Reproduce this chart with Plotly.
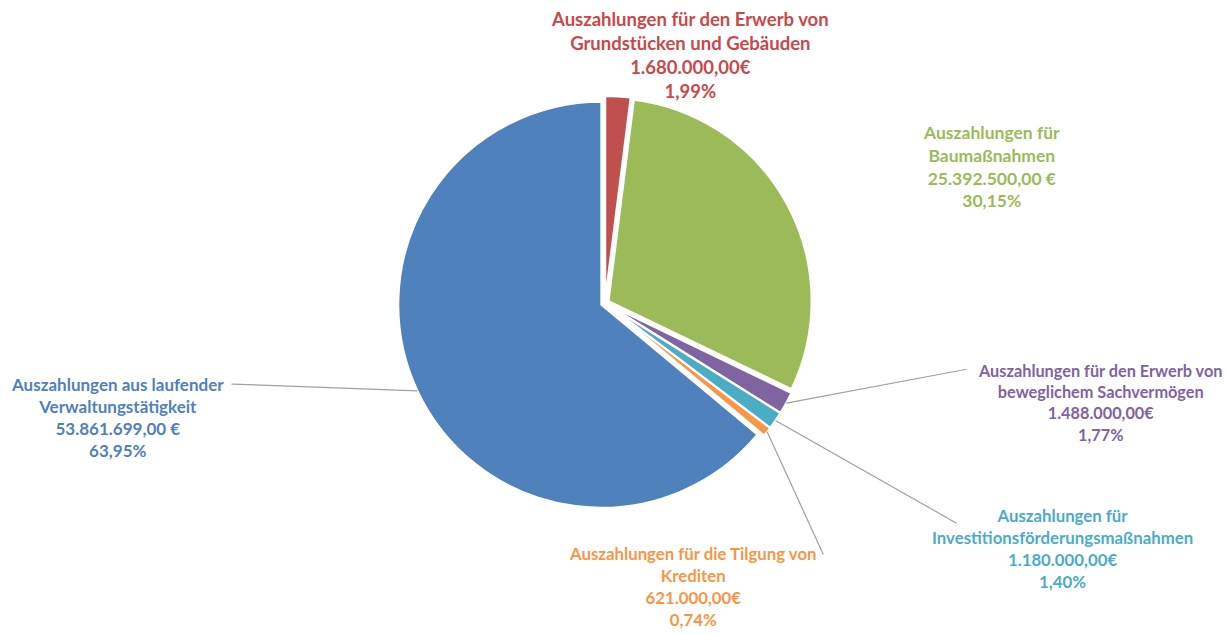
import math
import plotly.graph_objects as go

# ---- data ----
labels = [
    "Auszahlungen für den Erwerb von<br>Grundstücken und Gebäuden",
    "Auszahlungen für<br>Baumaßnahmen",
    "Auszahlungen für den Erwerb von<br>beweglichem Sachvermögen",
    "Auszahlungen für<br>Investitionsförderungsmaßnahmen",
    "Auszahlungen für die Tilgung von<br>Krediten",
    "Auszahlungen aus laufender<br>Verwaltungstätigkeit",
]
amounts = [1680000.00, 25392500.00, 1488000.00, 1180000.00, 621000.00, 53861699.00]
amount_text = ["1.680.000,00€", "25.392.500,00 €", "1.488.000,00€",
               "1.180.000,00€", "621.000,00€", "53.861.699,00 €"]
percent_text = ["1,99%", "30,15%", "1,77%", "1,40%", "0,74%", "63,95%"]
colors = ["#C0504D", "#9BBB59", "#8064A2", "#4BACC6", "#F79646", "#4F81BD"]
text_colors = ["#C8494A", "#9BBB59", "#7F63A1", "#4BACC6", "#F79646", "#4F81BD"]

W, H = 1227, 635

# pie placement (page pixels)
PCX, PCY, PR = 605, 303, 203
pull = 0.02

def fx(px):
    return px / W

def fy(py):
    return 1 - py / H

half = PR * (1 + pull)
dom_x = [fx(PCX) - 0.25, fx(PCX) + 0.25]
dom_y = [fy(PCY + half), fy(PCY - half)]

fig = go.Figure(go.Pie(
    values=amounts,
    labels=[l.replace("<br>", " ") for l in labels],
    marker=dict(colors=colors, line=dict(color="white", width=2)),
    sort=False,
    direction="clockwise",
    rotation=0,
    pull=pull,
    textinfo="none",
    hoverinfo="label+value+percent",
    domain=dict(x=dom_x, y=dom_y),
    showlegend=False,
))

# label centres (page pixels), font sizes and leader-line start points
label_px = [(690, 55), (992, 166), (1100, 402), (1062, 548), (693, 586), (117, 417)]
label_size = [18.5, 17.5, 16.3, 16.8, 16.8, 17]
leader_tail = [None, None, (968, 369), (958, 524), (824, 556), (230, 384)]

total = sum(amounts)
cum = 0
annotations = []
for i, v in enumerate(amounts):
    mid = (cum + v / 2) / total * 2 * math.pi
    cum += v
    text = f"{labels[i]}<br>{amount_text[i]}<br>{percent_text[i]}"
    lpx, lpy = label_px[i]
    annotations.append(dict(
        x=fx(lpx), y=fy(lpy), xref="paper", yref="paper", text=text,
        showarrow=False, xanchor="center", yanchor="middle",
        font=dict(family="Lato", size=label_size[i], color=text_colors[i], weight="bold"),
        align="center",
    ))
    if leader_tail[i] is not None:
        rr = PR * (1 + pull)
        tx = PCX + rr * math.sin(mid)
        ty = PCY - rr * math.cos(mid)
        sx, sy = leader_tail[i]
        annotations.append(dict(
            x=fx(tx), y=fy(ty), xref="paper", yref="paper", text="",
            showarrow=True, arrowhead=0, arrowwidth=1.2, arrowcolor="#A0A0A0",
            ax=sx - tx, ay=sy - ty,
        ))

fig.update_layout(
    width=W, height=H,
    margin=dict(l=0, r=0, t=0, b=0),
    paper_bgcolor="white",
    plot_bgcolor="white",
    annotations=annotations,
)

fig.write_html("out.html", config={"displayModeBar": False},
               post_script="document.body.style.margin='0';")
